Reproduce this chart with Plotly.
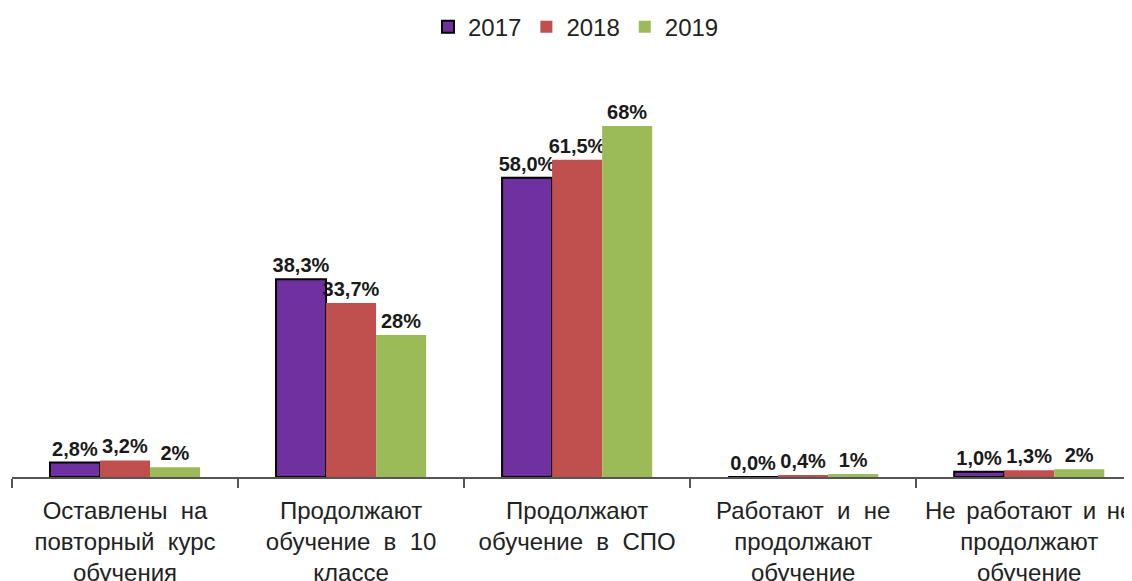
import plotly.graph_objects as go

NB = "\u00a0"
SP = "\u2006 "
categories = [
    f"Оставлены{NB} на<br>повторный{NB} курс<br>обучения",
    f"Продолжают<br>обучение{NB} в{NB} 10<br>классе",
    f"Продолжают<br>обучение{NB} в{NB} СПО",
    f"Работают{NB} и{NB} не<br>продолжают<br>обучение",
    f"Не{SP}работают{SP}и{SP}не<br>продолжают<br>обучение",
]
series_names = ["2017", "2018", "2019"]
values_2017 = [2.8, 38.3, 58.0, 0.0, 1.0]
values_2018 = [3.2, 33.7, 61.5, 0.4, 1.3]
values_2019 = [1.9, 27.5, 68.0, 0.6, 1.5]
labels_2017 = ["2,8%", "38,3%", "58,0%", "0,0%", "1,0%"]
labels_2018 = ["3,2%", "33,7%", "61,5%", "0,4%", "1,3%"]
labels_2019 = ["2%", "28%", "68%", "1%", "2%"]
colors = ["#7030A0", "#C0504D", "#9BBB59"]

fig = go.Figure()
for name, vals, labs, col in zip(
    series_names,
    [values_2017, values_2018, values_2019],
    [labels_2017, labels_2018, labels_2019],
    colors,
):
    fig.add_trace(go.Bar(
        name=name, x=categories, y=vals, text=labs,
        textposition="outside", constraintext="none", cliponaxis=False,
        textfont=dict(family="Liberation Sans, Arial", size=20, color="#1a1a1a", weight="bold"),
        marker=dict(color=col,
                    line=dict(color="#000000" if name == "2017" else col,
                              width=2 if name == "2017" else 0)),
    ))

fig.update_layout(
    width=1132, height=581,
    margin=dict(l=4, r=0, t=82, b=112, autoexpand=False),
    paper_bgcolor="white", plot_bgcolor="white",
    barmode="group", bargap=0.336, bargroupgap=0,
    font=dict(family="Liberation Sans, Arial", color="#222222"),
    legend=dict(orientation="h", x=0.5, xanchor="center",
                yref="container", y=0.967, yanchor="middle",
                font=dict(size=24, color="#222222"), itemwidth=30,
                traceorder="normal"),
    xaxis=dict(range=[-0.5, 4.49], showline=True, linecolor="#555555", linewidth=1.5,
               ticks="outside", tickson="boundaries", ticklen=9, tickcolor="#555555",
               tickwidth=1.5, tickfont=dict(size=24, color="#222222"), showgrid=False,
               tickangle=0, automargin=False, ticklabelstandoff=11),
    yaxis=dict(range=[0, 75], visible=False, showgrid=False, zeroline=False,
               automargin=False),
)

fig.write_html("out.html")
